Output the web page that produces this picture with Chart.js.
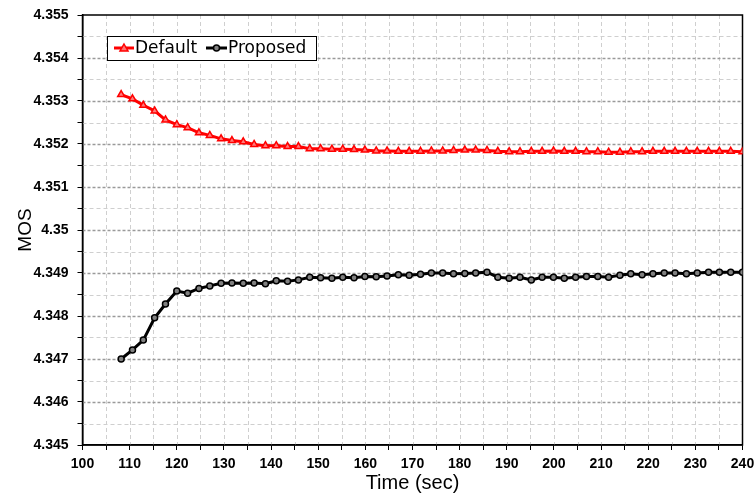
<!DOCTYPE html>
<html>
<head>
<meta charset="utf-8">
<script src="https://cdn.jsdelivr.net/npm/chart.js@4.4.0/dist/chart.umd.min.js"></script>
<style>
  html, body { margin: 0; padding: 0; background: #fff; }
  #wrap { width: 756px; height: 496px; }
</style>
</head>
<body>
<div id="wrap"><canvas id="mosChart" width="756" height="496"></canvas></div>
<script>
// tempos (sec)
const times = [108.2, 110.6, 112.9, 115.3, 117.6, 120.0, 122.3, 124.7, 127.0, 129.4,
  131.7, 134.1, 136.4, 138.8, 141.1, 143.5, 145.8, 148.2, 150.5, 152.9,
  155.2, 157.6, 159.9, 162.3, 164.6, 167.0, 169.3, 171.7, 174.0, 176.4,
  178.7, 181.1, 183.4, 185.8, 188.1, 190.5, 192.8, 195.2, 197.5, 199.9,
  202.2, 204.6, 206.9, 209.3, 211.6, 214.0, 216.3, 218.7, 221.0, 223.4,
  225.7, 228.1, 230.4, 232.8, 235.1, 237.5, 240.0];

const defaultMos = [4.35315, 4.35305, 4.35290, 4.35277, 4.35256, 4.35245, 4.35238, 4.35226, 4.35220, 4.35212,
  4.35208, 4.35205, 4.35199, 4.35196, 4.35196, 4.35194, 4.35194, 4.35189, 4.35189, 4.35188,
  4.35188, 4.35187, 4.35186, 4.35184, 4.35184, 4.35183, 4.35183, 4.35183, 4.35184, 4.35184,
  4.35185, 4.35186, 4.35186, 4.35185, 4.35183, 4.35182, 4.35182, 4.35183, 4.35183, 4.35184,
  4.35183, 4.35183, 4.35182, 4.35182, 4.35181, 4.35181, 4.35182, 4.35182, 4.35183, 4.35183,
  4.35183, 4.35183, 4.35183, 4.35183, 4.35183, 4.35183, 4.35182];

const proposedMos = [4.34700, 4.34721, 4.34744, 4.34796, 4.34828, 4.34858, 4.34853, 4.34864, 4.34870, 4.34876,
  4.34877, 4.34876, 4.34877, 4.34875, 4.34882, 4.34881, 4.34884, 4.34890, 4.34889, 4.34888,
  4.34890, 4.34889, 4.34892, 4.34891, 4.34893, 4.34896, 4.34895, 4.34897, 4.34900, 4.34900,
  4.34898, 4.34899, 4.34900, 4.34902, 4.34890, 4.34888, 4.34890, 4.34884, 4.34890, 4.34890,
  4.34888, 4.34890, 4.34892, 4.34892, 4.34890, 4.34895, 4.34898, 4.34896, 4.34898, 4.34900,
  4.34900, 4.34898, 4.34900, 4.34902, 4.34902, 4.34902, 4.34902];

const seriesLabels = ["Default", "Proposed"];
const xTicks = [100, 240, 5];          // min, max, passo
const yTicks = [4.345, 4.355, 0.0005]; // min, max, passo

function toPoints(xs, ys) {
  return xs.map((x, i) => ({ x: x, y: ys[i] }));
}

function isMajorY(v) {
  return Math.round(v * 10000) % 10 === 0;
}

// Grade tracejada + borda preta em volta da área do gráfico
const dashedGrid = {
  id: "dashedGrid",
  beforeDatasetsDraw(chart) {
    const a = chart.chartArea;
    const ctx = chart.ctx;
    const xs = chart.scales.x;
    const ys = chart.scales.y;
    ctx.save();
    ctx.lineWidth = 1;
    // verticais
    ctx.setLineDash([4, 3]);
    ctx.strokeStyle = "#cfcfcf";
    xs.ticks.forEach((t) => {
      const px = Math.round(xs.getPixelForValue(t.value)) + 0.5;
      if (px <= a.left + 1 || px >= a.right - 1) return;
      ctx.beginPath();
      ctx.moveTo(px, a.top);
      ctx.lineTo(px, a.bottom);
      ctx.stroke();
    });
    // horizontais
    ys.ticks.forEach((t) => {
      const py = Math.round(ys.getPixelForValue(t.value)) + 0.5;
      if (py <= a.top + 1 || py >= a.bottom - 1) return;
      const major = isMajorY(t.value);
      ctx.strokeStyle = major ? "#9a9a9a" : "#cfcfcf";
      ctx.lineWidth = major ? 1.3 : 1;
      ctx.setLineDash(major ? [3, 2] : [4, 3]);
      ctx.beginPath();
      ctx.moveTo(a.left, py);
      ctx.lineTo(a.right, py);
      ctx.stroke();
    });
    ctx.setLineDash([]);
    ctx.strokeStyle = "#000";
    ctx.lineWidth = 1.5;
    ctx.strokeRect(a.left, a.top, a.right - a.left, a.bottom - a.top);
    ctx.restore();
  },
};

// Legenda com caixa dentro da área do gráfico
const boxLegend = {
  id: "boxLegend",
  afterDatasetsDraw(chart) {
    const ctx = chart.ctx;
    ctx.save();
    ctx.fillStyle = "#fff";
    ctx.fillRect(107, 36, 209, 24);
    ctx.strokeStyle = "#000";
    ctx.lineWidth = 1;
    ctx.strokeRect(107.5, 36.5, 209, 24);

    const y = 48;
    // Default
    ctx.strokeStyle = "#ff0000";
    ctx.lineWidth = 3;
    ctx.beginPath();
    ctx.moveTo(114, y);
    ctx.lineTo(134, y);
    ctx.stroke();
    ctx.fillStyle = "#ff7070";
    ctx.lineWidth = 1.5;
    ctx.beginPath();
    ctx.moveTo(124, y - 4);
    ctx.lineTo(128, y + 3);
    ctx.lineTo(120, y + 3);
    ctx.closePath();
    ctx.fill();
    ctx.stroke();

    // Proposed
    ctx.strokeStyle = "#000";
    ctx.lineWidth = 3;
    ctx.beginPath();
    ctx.moveTo(206, y);
    ctx.lineTo(227, y);
    ctx.stroke();
    ctx.fillStyle = "#808080";
    ctx.lineWidth = 1.5;
    ctx.beginPath();
    ctx.arc(216.5, y, 3, 0, Math.PI * 2);
    ctx.fill();
    ctx.stroke();

    ctx.fillStyle = "#000";
    ctx.font = "17px 'DejaVu Sans'";
    ctx.textBaseline = "middle";
    ctx.fillText(seriesLabels[0], 135, y + 1);
    ctx.fillText(seriesLabels[1], 228, y + 1);
    ctx.restore();
  },
};

new Chart(document.getElementById("mosChart"), {
  type: "line",
  data: {
    datasets: [
      {
        label: seriesLabels[0],
        data: toPoints(times, defaultMos),
        borderColor: "#ff0000",
        borderWidth: 3,
        pointStyle: "triangle",
        pointRadius: 4,
        pointBorderWidth: 1.5,
        pointBackgroundColor: "#ff7a7a",
        pointBorderColor: "#ff0000",
        tension: 0,
      },
      {
        label: seriesLabels[1],
        data: toPoints(times, proposedMos),
        borderColor: "#000",
        borderWidth: 3,
        pointStyle: "circle",
        pointRadius: 3,
        pointBorderWidth: 1.5,
        pointBackgroundColor: "#808080",
        pointBorderColor: "#000",
        tension: 0,
      },
    ],
  },
  options: {
    responsive: false,
    animation: false,
    layout: { padding: { top: 15, right: 13.5, left: 0, bottom: 0 } },
    plugins: {
      legend: { display: false },
      tooltip: { enabled: false },
    },
    scales: {
      x: {
        type: "linear",
        min: xTicks[0],
        max: xTicks[1],
        afterFit(scale) {
          scale.height = 51;
          scale.paddingLeft = 0;
          scale.paddingRight = 0;
        },
        ticks: {
          stepSize: xTicks[2],
          autoSkip: false,
          maxRotation: 0,
          padding: 6,
          color: "#000",
          font: { family: "Liberation Sans", size: 14, weight: "bold" },
          callback: (v) => (v % 10 === 0 ? String(v) : ""),
        },
        grid: {
          drawOnChartArea: false,
          tickLength: 5,
          tickColor: "#000",
          tickWidth: 1,
        },
        border: { display: true, color: "#000", width: 1.5 },
        title: {
          display: true,
          text: "Time (sec)",
          color: "#000",
          font: { family: "Liberation Sans", size: 20 },
          padding: { top: 0, bottom: 1 },
        },
      },
      y: {
        min: yTicks[0],
        max: yTicks[1],
        afterFit(scale) {
          scale.width = 82.5;
          scale.paddingTop = 0;
          scale.paddingBottom = 0;
        },
        ticks: {
          stepSize: yTicks[2],
          autoSkip: false,
          padding: 9,
          color: "#000",
          font: { family: "Liberation Sans", size: 14, weight: "bold" },
          callback: (v) => (isMajorY(v) ? String(+v.toFixed(3)) : ""),
        },
        grid: {
          drawOnChartArea: false,
          tickLength: 5,
          tickColor: "#000",
          tickWidth: 1,
        },
        border: { display: true, color: "#000", width: 1.5 },
        title: {
          display: true,
          text: "MOS",
          color: "#000",
          font: { family: "Liberation Sans", size: 19 },
          padding: { top: 14, bottom: 0 },
        },
      },
    },
  },
  plugins: [dashedGrid, boxLegend],
});
</script>
</body>
</html>
